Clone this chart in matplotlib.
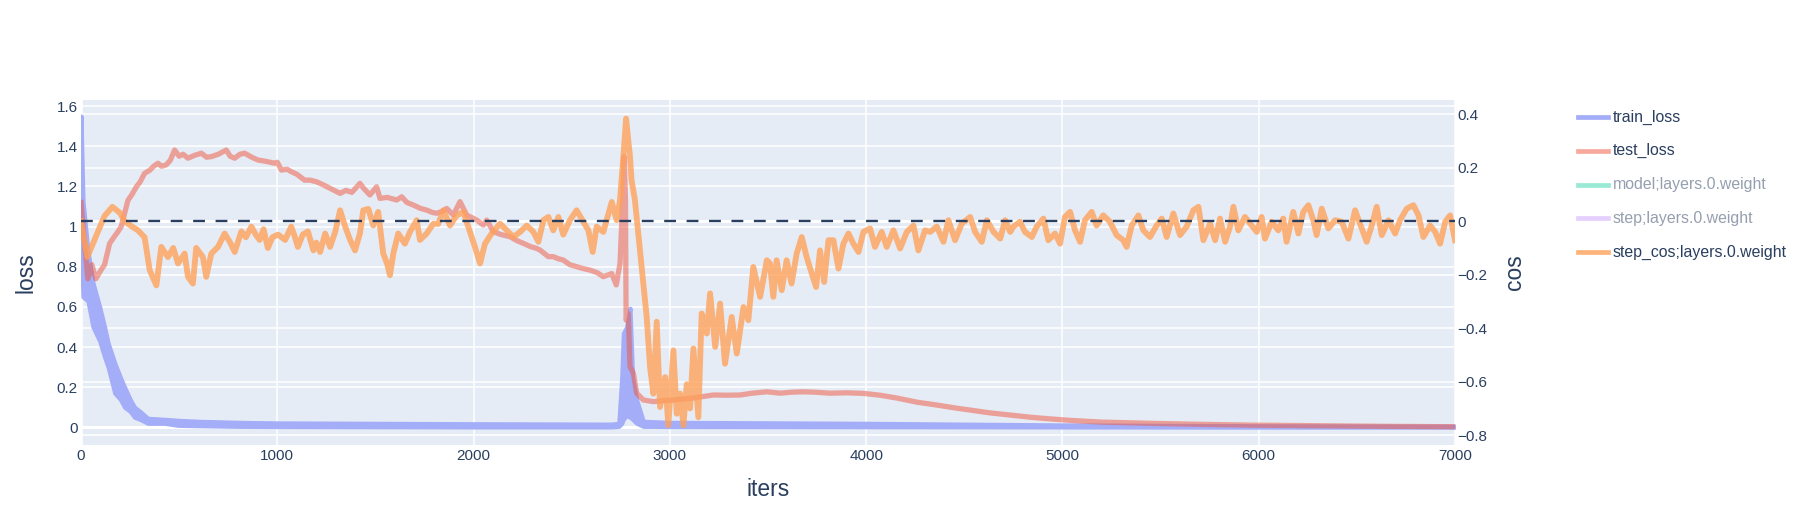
import numpy as np
import matplotlib.pyplot as plt
from matplotlib.lines import Line2D
from matplotlib.transforms import blended_transform_factory
from matplotlib.ticker import FuncFormatter

plt.rcParams['font.family'] = ['Liberation Sans', 'DejaVu Sans']

# --- data ---
cos_iters = [0, 32, 80, 120, 160, 200, 222, 260, 290, 324, 350, 384, 409, 443, 470, 494, 528, 545,
             570, 587, 621, 638, 664, 698, 732, 760, 783, 817, 840, 868, 890, 910, 930, 952, 975,
             1004, 1040, 1071, 1090, 1105, 1130, 1156, 1184, 1199, 1218, 1244, 1269, 1295, 1320,
             1346, 1371, 1396, 1421, 1438, 1464, 1489, 1514, 1540, 1560, 1574, 1591, 1616, 1650,
             1676, 1710, 1727, 1761, 1795, 1820, 1846, 1880, 1914, 1948, 1973, 2007, 2033, 2058,
             2092, 2135, 2169, 2203, 2237, 2271, 2305, 2330, 2356, 2381, 2406, 2432, 2457, 2491,
             2525, 2559, 2585, 2607, 2627, 2661, 2678, 2704, 2729, 2746, 2763, 2777, 2788, 2796,
             2805, 2822, 2839, 2856, 2882, 2899, 2916, 2933, 2950, 2976, 2992, 3018, 3035, 3052,
             3069, 3086, 3103, 3120, 3145, 3162, 3188, 3205, 3231, 3256, 3281, 3315, 3341, 3375,
             3400, 3425, 3460, 3494, 3510, 3527, 3544, 3570, 3595, 3620, 3646, 3672, 3697, 3723,
             3745, 3765, 3786, 3808, 3833, 3859, 3884, 3910, 3935, 3961, 3986, 4020, 4045, 4079,
             4105, 4139, 4173, 4207, 4241, 4266, 4300, 4326, 4360, 4394, 4419, 4453, 4487, 4530,
             4555, 4589, 4615, 4649, 4683, 4708, 4734, 4750, 4784, 4809, 4844, 4869, 4903, 4928,
             4962, 4988, 5013, 5039, 5064, 5090, 5115, 5149, 5174, 5208, 5242, 5276, 5310, 5327,
             5353, 5387, 5412, 5446, 5480, 5506, 5531, 5565, 5599, 5633, 5667, 5693, 5718, 5752,
             5778, 5803, 5829, 5854, 5871, 5896, 5930, 5964, 5990, 6015, 6032, 6066, 6100, 6125,
             6142, 6176, 6202, 6227, 6253, 6278, 6295, 6321, 6355, 6389, 6423, 6457, 6491, 6516,
             6550, 6576, 6601, 6627, 6661, 6695, 6720, 6754, 6788, 6814, 6839, 6873, 6899, 6924,
             6950, 6975, 7000]
step_cos = [0.0, -0.134, -0.05, 0.02, 0.054, 0.03, 0.0, -0.02, -0.034, -0.06, -0.183, -0.24, -0.096,
            -0.134, -0.10, -0.158, -0.121, -0.208, -0.233, -0.10, -0.134, -0.208, -0.121, -0.096,
            -0.046, -0.08, -0.115, -0.038, -0.06, -0.02, -0.05, -0.07, -0.03, -0.10, -0.06, -0.05,
            -0.07, -0.02, -0.06, -0.096, -0.05, -0.038, -0.109, -0.08, -0.115, -0.046, -0.096,
            -0.04, 0.041, -0.02, -0.07, -0.109, -0.046, 0.041, 0.046, -0.016, 0.035, -0.121, -0.16,
            -0.202, -0.121, -0.046, -0.084, -0.04, 0.004, -0.07, -0.046, -0.009, -0.01, 0.041,
            -0.016, 0.022, 0.035, -0.02, -0.096, -0.158, -0.084, -0.046, -0.009, -0.034, -0.059,
            -0.04, -0.016, -0.04, -0.077, 0.004, 0.016, -0.034, 0.016, -0.05, 0.004, 0.041, -0.002,
            -0.034, -0.115, -0.02, -0.04, 0.004, 0.072, 0.004, 0.079, 0.241, 0.384, 0.303, 0.25,
            0.153, 0.079, -0.046, -0.171, -0.358, -0.545, -0.645, -0.376, -0.695, -0.583, -0.763,
            -0.483, -0.72, -0.645, -0.763, -0.61, -0.70, -0.476, -0.733, -0.345, -0.42, -0.27,
            -0.47, -0.308, -0.533, -0.358, -0.495, -0.321, -0.37, -0.171, -0.283, -0.146, -0.158,
            -0.283, -0.146, -0.258, -0.146, -0.233, -0.121, -0.059, -0.134, -0.196, -0.246,
            -0.109, -0.227, -0.071, -0.071, -0.177, -0.084, -0.046, -0.084, -0.115, -0.04, -0.027,
            -0.096, -0.04, -0.096, -0.034, -0.102, -0.04, -0.016, -0.109, -0.034, -0.04, -0.02,
            -0.077, 0.004, -0.071, -0.009, 0.016, -0.04, -0.077, 0.004, -0.04, -0.065, 0.004,
            -0.04, -0.02, -0.002, -0.04, -0.059, -0.02, 0.01, -0.071, -0.046, -0.084, 0.016, 0.035,
            -0.034, -0.077, 0.004, 0.035, -0.016, 0.022, -0.002, -0.052, -0.071, -0.096, -0.016,
            0.022, -0.034, -0.059, -0.016, 0.01, -0.059, 0.029, -0.052, -0.02, 0.041, 0.054,
            -0.071, -0.009, -0.071, 0.01, -0.077, -0.02, 0.054, -0.034, 0.016, -0.016, -0.04,
            0.016, -0.065, -0.002, -0.034, 0.01, -0.077, 0.035, -0.046, 0.035, 0.06, 0.004, -0.052,
            0.047, -0.027, 0.004, -0.002, -0.065, 0.041, -0.009, -0.077, -0.016, 0.054, -0.052,
            0.004, -0.046, 0.004, 0.047, 0.06, 0.022, -0.059, -0.016, -0.04, -0.084, -0.002, 0.022,
            -0.071]

test_iters = [0, 15, 35, 55, 76, 100, 120, 146, 170, 188, 205, 222, 239, 260, 282, 300, 324, 350,
              370, 392, 410, 434, 455, 477, 500, 520, 545, 580, 613, 640, 664, 700, 740, 760, 783,
              810, 834, 870, 902, 940, 987, 1000, 1021, 1050, 1071, 1100, 1139, 1167, 1199, 1235,
              1270, 1300, 1320, 1350, 1380, 1421, 1440, 1472, 1506, 1523, 1560, 1608, 1634, 1660,
              1693, 1730, 1761, 1790, 1812, 1840, 1863, 1897, 1931, 1965, 2016, 2050, 2067, 2101,
              2140, 2186, 2220, 2254, 2290, 2321, 2338, 2381, 2406, 2430, 2457, 2490, 2525, 2560,
              2593, 2630, 2661, 2704, 2727, 2746, 2760, 2767, 2774, 2777, 2788, 2797, 2814, 2831,
              2865, 2916, 2960, 3018, 3060, 3103, 3160, 3222, 3290, 3358, 3420, 3494, 3562, 3620,
              3677, 3740, 3815, 3900, 3986, 4070, 4156, 4260, 4360, 4450, 4530, 4630, 4734, 4840,
              4937, 5050, 5200, 5446, 5700, 5956, 6300, 6650, 7000]
test_loss = [1.12, 0.95, 0.74, 0.81, 0.74, 0.78, 0.81, 0.916, 0.95, 0.974, 1.0, 1.066, 1.13, 1.16,
             1.198, 1.22, 1.265, 1.28, 1.30, 1.315, 1.30, 1.307, 1.33, 1.381, 1.35, 1.36, 1.34,
             1.355, 1.365, 1.345, 1.348, 1.36, 1.381, 1.35, 1.34, 1.36, 1.365, 1.345, 1.331, 1.325,
             1.315, 1.32, 1.281, 1.285, 1.273, 1.26, 1.231, 1.231, 1.223, 1.207, 1.19, 1.175, 1.165,
             1.18, 1.17, 1.215, 1.19, 1.157, 1.198, 1.14, 1.145, 1.132, 1.148, 1.12, 1.107, 1.09,
             1.082, 1.07, 1.066, 1.075, 1.09, 1.057, 1.124, 1.057, 1.032, 1.007, 1.032, 0.974, 0.96,
             0.949, 0.93, 0.916, 0.90, 0.891, 0.883, 0.85, 0.85, 0.84, 0.833, 0.81, 0.80, 0.79,
             0.783, 0.77, 0.75, 0.766, 0.709, 0.816, 1.132, 1.348, 1.132, 0.534, 0.567, 0.302, 0.27,
             0.17, 0.136, 0.128, 0.132, 0.136, 0.14, 0.144, 0.152, 0.161, 0.16, 0.161, 0.17, 0.177,
             0.17, 0.175, 0.177, 0.175, 0.17, 0.172, 0.169, 0.16, 0.146, 0.125, 0.111, 0.097,
             0.086, 0.072, 0.061, 0.05, 0.042, 0.034, 0.026, 0.02, 0.015, 0.011, 0.008, 0.005,
             0.003]

train_iters = [0, 10, 35, 61, 95, 120, 138, 172, 200, 222, 250, 273, 300, 341, 426, 494, 600, 800,
               1000, 1500, 2000, 2700, 2740, 2755, 2763, 2780, 2797, 2810, 2831, 2865, 3000, 4000,
               5000, 6000, 7000]
train_hi = [1.55, 1.13, 0.88, 0.72, 0.60, 0.50, 0.42, 0.32, 0.25, 0.20, 0.14, 0.10, 0.08, 0.045,
            0.04, 0.035, 0.03, 0.025, 0.022, 0.02, 0.018, 0.016, 0.02, 0.25, 0.468, 0.50, 0.593,
            0.25, 0.136, 0.03, 0.025, 0.02, 0.012, 0.008, 0.006]
train_lo = [0.95, 0.65, 0.63, 0.50, 0.43, 0.35, 0.30, 0.17, 0.14, 0.10, 0.08, 0.05, 0.04, 0.02,
            0.02, 0.01, 0.008, 0.005, 0.004, 0.003, 0.002, 0.002, 0.005, 0.02, 0.04, 0.06, 0.05,
            0.04, 0.02, 0.005, 0.004, 0.003, 0.002, 0.001, 0.001]

legend_names = ['train_loss', 'test_loss', 'model;layers.0.weight', 'step;layers.0.weight',
                'step_cos;layers.0.weight']

# --- style ---
W, H = 1808, 525
BG = '#e5ecf6'
INK = '#2a3f5f'
TRAIN_C = '#a4adf8'
TEST_C = '#EF553B'
COS_C = '#FFA15A'

fig = plt.figure(figsize=(W / 100, H / 100), dpi=100)
ax = fig.add_axes([81 / W, (H - 445) / H, (1455 - 81) / W, 345 / H])
ax.set_facecolor(BG)
ax.set_xlim(0, 7000)
ax.set_ylim(-0.088, 1.63)
ax2 = ax.twinx()
ax2.set_ylim(-0.837, 0.4535)

for a in (ax, ax2):
    for s in a.spines.values():
        s.set_visible(False)

# grid lines for both y axes drawn beneath the data
left_ticks = [0, 0.2, 0.4, 0.6, 0.8, 1.0, 1.2, 1.4, 1.6]
right_ticks = [-0.8, -0.6, -0.4, -0.2, 0, 0.2, 0.4]
x_ticks = [0, 1000, 2000, 3000, 4000, 5000, 6000, 7000]
for v in x_ticks:
    ax.axvline(v, color='white', lw=2.0 if v == 0 else 1.1, zorder=0.5)
for v in left_ticks:
    ax.axhline(v, color='white', lw=2.2 if v == 0 else 1.1, zorder=0.5)
tr = blended_transform_factory(ax.transAxes, ax2.transData)
for v in right_ticks:
    ax.plot([0, 1], [v, v], transform=tr, color='white', lw=2.2 if v == 0 else 1.1, zorder=0.5)

# train loss band (oscillation envelope)
ax.fill_between(train_iters, train_lo, train_hi, facecolor=TRAIN_C, edgecolor=TRAIN_C,
                lw=3.0, zorder=2)
ax.plot(test_iters, test_loss, color=TEST_C, alpha=0.5, lw=3.8, zorder=3)

ax2.plot(cos_iters, step_cos, color=COS_C, alpha=0.8, lw=4.2, zorder=2)
ax2.plot([0, 7000], [0, 0], color=INK, lw=1.7, ls=(0, (5, 4.5)), zorder=3)

fmt = FuncFormatter(lambda v, p: f'{v:g}'.replace('-', '\u2212'))
ax.set_xticks(x_ticks)
ax.set_yticks(left_ticks)
ax2.set_yticks(right_ticks)
ax.yaxis.set_major_formatter(fmt)
ax2.yaxis.set_major_formatter(fmt)
ax.tick_params(axis='both', length=0, labelsize=11, labelcolor=INK)
ax.tick_params(axis='y', pad=2.5)
ax.tick_params(axis='x', pad=3)
ax2.tick_params(axis='y', length=0, labelsize=11, labelcolor=INK, pad=1.5)

ax.set_xlabel('iters', fontsize=16.5, color=INK)
ax.xaxis.set_label_coords(0.5, -0.095)
ax.set_ylabel('loss', fontsize=16.5, color=INK)
ax.yaxis.set_label_coords(-0.032, 0.5)
ax2.set_ylabel('cos', fontsize=16.5, color=INK, rotation=90)
ax2.yaxis.set_label_coords(1.035, 0.5)

# legend (two traces hidden, shown faded)
leg_colors = [TRAIN_C, TEST_C, '#00cc96', '#ab63fa', COS_C]
leg_alpha = [1.0, 0.5, 0.4, 0.3, 0.8]
leg_text = [INK, INK, '#959faf', '#959faf', INK]
for i, name in enumerate(legend_names):
    y = 1 - (117 + 33.8 * i) / H
    fig.add_artist(Line2D([1578 / W, 1608 / W], [y, y], transform=fig.transFigure,
                          color=leg_colors[i], alpha=leg_alpha[i], lw=3.4))
    fig.text(1613 / W, y, name, fontsize=11.4, color=leg_text[i], va='center', ha='left')

fig.savefig('out.png', dpi=100, facecolor='white')
